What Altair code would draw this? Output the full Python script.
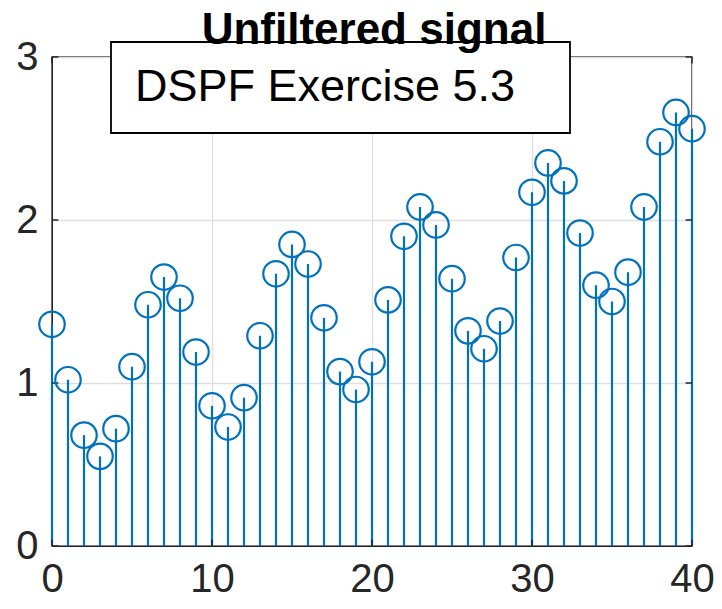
import altair as alt
import pandas as pd

n = list(range(41))
values = [1.36, 1.02, 0.68, 0.55, 0.72, 1.10, 1.48, 1.65, 1.52, 1.19,
          0.86, 0.73, 0.91, 1.29, 1.67, 1.85, 1.73, 1.40, 1.07, 0.96,
          1.13, 1.51, 1.90, 2.08, 1.97, 1.64, 1.32, 1.21, 1.38, 1.77,
          2.17, 2.35, 2.24, 1.92, 1.60, 1.50, 1.68, 2.08, 2.48, 2.66, 2.56]
x_ticks = [0, 10, 20, 30, 40]
y_ticks = [0, 1, 2, 3]
title_text = "Unfiltered signal"
box_text = "DSPF Exercise 5.3"

df = pd.DataFrame({"n": n, "v": values})
FONT = "Liberation Sans"
BLUE = "#0072BD"
AX = "#262626"

xs = alt.Scale(domain=[0, 40], nice=False, zero=False)
ys = alt.Scale(domain=[0, 3], nice=False)

base = alt.Chart(df)

stems = base.mark_rule(color=BLUE, strokeWidth=2.2).encode(
    x=alt.X("n:Q", scale=xs,
            axis=alt.Axis(values=x_ticks, format="d", title=None, grid=True, ticks=False,
                          labelFontSize=40, labelPadding=13, labelFont=FONT,
                          labelColor=AX, domainColor=AX,
                          gridColor="#dedede", gridWidth=1.3, labelFlush=False)),
    y=alt.Y("v:Q", scale=ys,
            axis=alt.Axis(values=y_ticks, format="d", title=None, grid=True, ticks=False,
                          labelFontSize=40, labelPadding=14, labelFont=FONT,
                          labelColor=AX, domainColor=AX,
                          gridColor="#dedede", gridWidth=1.3, labelFlush=False)),
    y2=alt.datum(0),
)

points = base.mark_point(shape="circle", filled=False, color=BLUE,
                         size=650, strokeWidth=2.2, opacity=1).encode(
    x=alt.X("n:Q", scale=xs),
    y=alt.Y("v:Q", scale=ys),
)

# inward tick marks (MATLAB style) on all four sides
xt = pd.DataFrame({"t": x_ticks})
yt = pd.DataFrame({"t": y_ticks})
tick_b = alt.Chart(xt).mark_rule(color=AX, strokeWidth=1.5).encode(
    x=alt.X("t:Q", scale=xs), y=alt.datum(0), y2=alt.datum(0.04))
tick_t = alt.Chart(xt).mark_rule(color=AX, strokeWidth=1.5).encode(
    x=alt.X("t:Q", scale=xs), y=alt.datum(3), y2=alt.datum(2.96))
tick_l = alt.Chart(yt).mark_rule(color=AX, strokeWidth=1.5).encode(
    y=alt.Y("t:Q", scale=ys), x=alt.datum(0), x2=alt.datum(0.4))
tick_r = alt.Chart(yt).mark_rule(color=AX, strokeWidth=1.5).encode(
    y=alt.Y("t:Q", scale=ys), x=alt.datum(40), x2=alt.datum(39.6))

box = alt.Chart(pd.DataFrame({"t": [box_text]})).mark_rect(
    fill="white", stroke="black", strokeWidth=1.8
).encode(
    x=alt.value(59), x2=alt.value(518), y=alt.value(-15), y2=alt.value(76)
)

box_label = alt.Chart(pd.DataFrame({"t": [box_text]})).mark_text(
    font=FONT, fontSize=45, color="black", align="left", baseline="alphabetic"
).encode(text="t:N", x=alt.value(83), y=alt.value(44))

title = alt.Chart(pd.DataFrame({"t": [title_text]})).mark_text(
    font=FONT, fontSize=44, fontWeight="bold", color="black",
    align="center", baseline="alphabetic"
).encode(text="t:N", x=alt.value(322), y=alt.value(-13))

chart = alt.layer(stems, tick_b, tick_t, tick_l, tick_r, points, box, box_label, title).properties(
    width=640, height=489,
    autosize=alt.AutoSizeParams(type="none"),
    padding={"left": 44, "top": 49, "right": 22, "bottom": 55},
).configure_view(stroke=AX, strokeWidth=1.5)

chart.save("out.html", embed_options={"renderer": "svg", "actions": False})
